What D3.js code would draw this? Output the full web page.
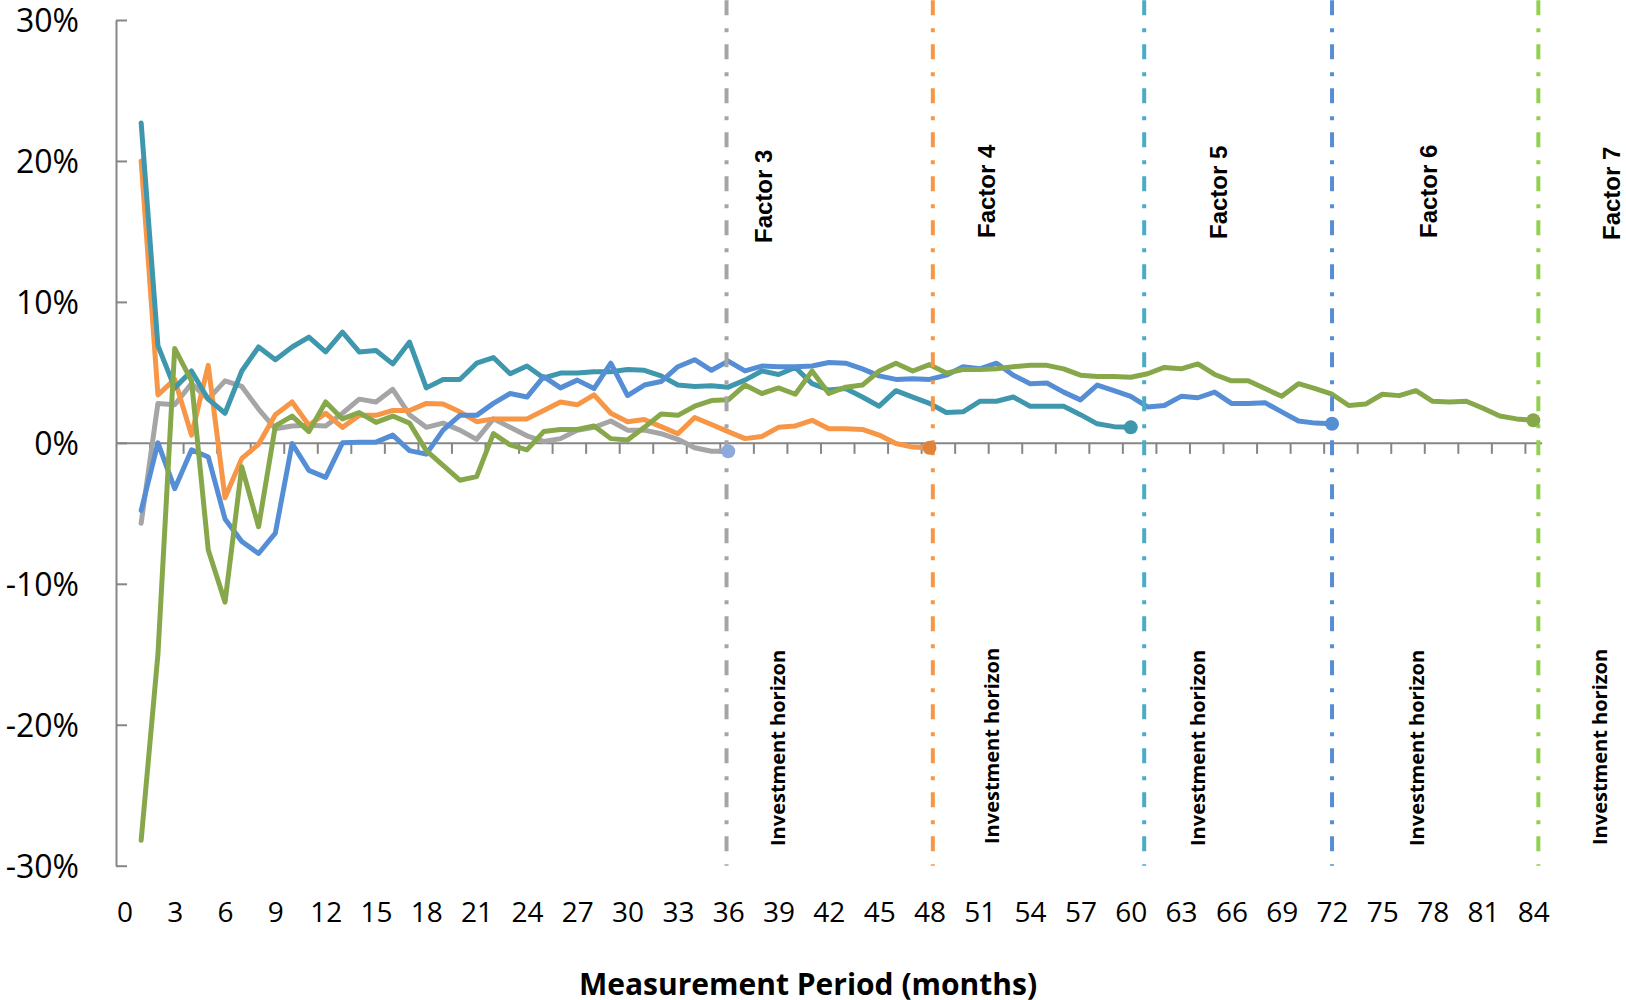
<!DOCTYPE html>
<html>
<head>
<meta charset="utf-8">
<script src="https://cdn.jsdelivr.net/npm/d3@7"></script>
<style>
  html, body { margin: 0; padding: 0; background: #ffffff; }
  svg { display: block; }
</style>
</head>
<body>
<svg id="chart" width="1626" height="1000"></svg>
<script>
// ---- Data -------------------------------------------------------------
// Category axis: months 0..84, labelled every third month
const monthCategories = d3.range(0, 85);
const xTickLabels = d3.range(0, 85, 3);
const yTickValues = [-0.3, -0.2, -0.1, 0, 0.1, 0.2, 0.3];

const factorNames = ["Factor 3", "Factor 4", "Factor 5", "Factor 6", "Factor 7"];
const horizonMonths = [36, 48, 60, 72, 84];
// where each "investment horizon" reference line sits on the month axis
const horizonLineAt = [35.9, 48.2, 60.8, 72.0, 84.3];
const horizonLabel = "Investment horizon";
const xAxisTitle = "Measurement Period (months)";

// Running excess return (%) by measurement month, starting at month 1
const factor3 = [-5.7, 2.8, 2.7, 4.2, 3.1, 4.4, 4.0, 2.4, 1.0, 1.2, 1.25, 1.2, 2.1, 3.1, 2.9, 3.8, 2.0, 1.1,
  1.4, 0.9, 0.25, 1.7, 1.1, 0.5, 0.1, 0.3, 0.9, 1.1, 1.55, 0.9, 0.9, 0.65, 0.25, -0.35, -0.6, -0.6];

const factor4 = [20.0, 3.4, 4.5, 0.55, 5.5, -3.9, -1.1, -0.1, 2.0, 2.9, 1.25, 2.1, 1.1, 1.95, 1.95, 2.3, 2.3, 2.8,
  2.75, 2.2, 1.5, 1.7, 1.7, 1.7, 2.3, 2.9, 2.7, 3.4, 2.1, 1.5, 1.65, 1.15, 0.65, 1.8, 1.3, 0.8,
  0.3, 0.45, 1.1, 1.2, 1.6, 1.0, 1.0, 0.95, 0.55, -0.05, -0.3, -0.35];

const factor5 = [22.7, 6.9, 3.9, 5.1, 3.1, 2.1, 5.1, 6.8, 5.9, 6.8, 7.5, 6.45, 7.85, 6.45, 6.55, 5.6, 7.15, 3.9,
  4.5, 4.5, 5.65, 6.05, 4.9, 5.45, 4.6, 4.95, 4.95, 5.05, 5.05, 5.2, 5.15, 4.75, 4.1, 4.0, 4.05, 3.95,
  4.45, 5.1, 4.85, 5.35, 4.2, 3.75, 3.85, 3.25, 2.6, 3.7, 3.25, 2.8, 2.15, 2.2, 2.95, 2.95, 3.25, 2.6,
  2.6, 2.6, 2.0, 1.35, 1.15, 1.1];

const factor6 = [-4.8, 0.0, -3.25, -0.5, -1.0, -5.4, -7.0, -7.85, -6.4, -0.05, -1.95, -2.45, 0.0, 0.05, 0.05, 0.55, -0.55, -0.8,
  0.9, 1.95, 1.95, 2.8, 3.5, 3.25, 4.7, 3.9, 4.45, 3.85, 5.65, 3.35, 4.1, 4.35, 5.4, 5.9, 5.15, 5.8,
  5.1, 5.45, 5.4, 5.4, 5.45, 5.7, 5.65, 5.25, 4.75, 4.5, 4.55, 4.5, 4.8, 5.4, 5.25, 5.65, 4.8, 4.2,
  4.25, 3.6, 3.05, 4.1, 3.7, 3.3, 2.55, 2.65, 3.3, 3.2, 3.6, 2.8, 2.8, 2.85, 2.2, 1.55, 1.4, 1.35];

const factor7 = [-28.2, -15.0, 6.7, 4.4, -7.6, -11.3, -1.7, -5.95, 1.2, 1.9, 0.8, 2.9, 1.7, 2.15, 1.45, 1.9, 1.4, -0.55,
  -1.6, -2.65, -2.4, 0.65, -0.15, -0.5, 0.8, 0.95, 0.95, 1.2, 0.3, 0.2, 1.1, 2.05, 1.95, 2.6, 3.0, 3.05,
  4.1, 3.5, 3.9, 3.45, 5.1, 3.5, 3.95, 4.1, 5.1, 5.65, 5.1, 5.55, 4.95, 5.2, 5.2, 5.25, 5.4, 5.5,
  5.5, 5.25, 4.8, 4.7, 4.7, 4.65, 4.9, 5.35, 5.25, 5.6, 4.85, 4.4, 4.4, 3.85, 3.3, 4.2, 3.85, 3.45,
  2.65, 2.75, 3.45, 3.35, 3.7, 2.95, 2.9, 2.95, 2.45, 1.9, 1.7, 1.6];

const seriesValues = [factor3, factor4, factor5, factor6, factor7];

// ---- Styling ----------------------------------------------------------
const lineColors   = ["#A5A5A5", "#F79646", "#3F97AE", "#558ED5", "#87A84A"];
const markerColors = ["#8EA9DB", "#E0823A", "#3F97AE", "#558ED5", "#87A84A"];
const guideColors  = ["#A5A5A5", "#F79646", "#4BACC6", "#558ED5", "#92D050"];
const axisColor = "#868686";

// label placement (centre x, start y) in page pixels
const factorLabelPos  = [[763, 243], [986, 238], [1218, 239], [1428, 238], [1611, 240]];
const horizonLabelPos = [[777, 846], [991, 844], [1197, 846], [1416, 846], [1599, 845]];

// ---- Scales -----------------------------------------------------------
const svg = d3.select("#chart");
const x = d3.scaleLinear().domain([-0.5, monthCategories.length - 0.5]).range([116, 1541.7]);
const y = d3.scaleLinear().domain([-0.3, 0.3]).range([865.7, 20]);

svg.append("rect").attr("width", 1626).attr("height", 1000).attr("fill", "#ffffff");

// ---- Axes -------------------------------------------------------------
const pct = d => Math.round(d * 100) + "%";

svg.append("g")
  .attr("transform", "translate(116,0)")
  .call(d3.axisLeft(y).tickValues(yTickValues).tickFormat(pct)
    .tickSizeInner(-11).tickSizeOuter(0).tickPadding(37))
  .call(g => {
    g.select(".domain").attr("stroke", axisColor).attr("stroke-width", 2);
    g.selectAll(".tick line").attr("stroke", axisColor).attr("stroke-width", 2);
    g.selectAll(".tick text").attr("font-family", "'Open Sans', sans-serif")
      .attr("font-size", 32).attr("dy", "0.36em").attr("fill", "#000");
  });

// horizontal axis line at 0% with tick marks between every second category
const boundaryTicks = d3.range(1.5, monthCategories.length - 1, 2);
svg.append("g")
  .attr("transform", `translate(0,${y(0)})`)
  .call(d3.axisBottom(x).tickValues(boundaryTicks).tickFormat("")
    .tickSizeInner(11).tickSizeOuter(0))
  .call(g => {
    g.select(".domain").attr("stroke", axisColor).attr("stroke-width", 2);
    g.selectAll(".tick line").attr("stroke", axisColor).attr("stroke-width", 2);
  });

// month labels sit below the plot area
svg.append("g")
  .attr("transform", `translate(0,${y(-0.3)})`)
  .call(d3.axisBottom(x).tickValues(xTickLabels).tickFormat(d => d)
    .tickSize(0).tickPadding(36))
  .call(g => {
    g.select(".domain").remove();
    g.selectAll(".tick text").attr("font-family", "'Open Sans', sans-serif")
      .attr("font-size", 28).attr("fill", "#000");
  });

svg.append("text")
  .attr("x", 808).attr("y", 995)
  .attr("text-anchor", "middle")
  .attr("font-family", "'Open Sans', sans-serif")
  .attr("font-weight", 700)
  .attr("font-size", 30)
  .attr("fill", "#000")
  .text(xAxisTitle);

// ---- Series lines -----------------------------------------------------
const line = d3.line().x(d => x(d.m)).y(d => y(d.v / 100));

seriesValues.forEach((vals, i) => {
  const pts = vals.map((v, k) => ({ m: k + 1, v }));
  svg.append("path")
    .datum(pts)
    .attr("d", line)
    .attr("fill", "none")
    .attr("stroke", lineColors[i])
    .attr("stroke-width", 5)
    .attr("stroke-linejoin", "round")
    .attr("stroke-linecap", "round");
});

// ---- Investment horizon guides ----------------------------------------
horizonLineAt.forEach((m, i) => {
  svg.append("line")
    .attr("x1", x(m)).attr("x2", x(m))
    .attr("y1", y(0.314)).attr("y2", y(-0.3))
    .attr("stroke", guideColors[i])
    .attr("stroke-width", 4)
    .attr("stroke-dasharray", "15 13 4 12");
});

// end-of-horizon markers
seriesValues.forEach((vals, i) => {
  svg.append("circle")
    .attr("cx", x(horizonMonths[i]))
    .attr("cy", y(vals[vals.length - 1] / 100))
    .attr("r", 7)
    .attr("fill", markerColors[i]);
});

// ---- Labels -----------------------------------------------------------
factorNames.forEach((name, i) => {
  const [cx, sy] = factorLabelPos[i];
  svg.append("text")
    .attr("transform", `translate(${cx + 8.6},${sy}) rotate(-90)`)
    .attr("font-family", "'Liberation Sans', Arial, sans-serif")
    .attr("font-weight", 700)
    .attr("font-size", 24)
    .attr("fill", "#000")
    .text(name);
});

horizonLabelPos.forEach(([cx, sy]) => {
  svg.append("text")
    .attr("transform", `translate(${cx + 8},${sy}) rotate(-90)`)
    .attr("font-family", "'Open Sans', sans-serif")
    .attr("font-weight", 700)
    .attr("font-size", 20)
    .attr("fill", "#000")
    .text(horizonLabel);
});
</script>
</body>
</html>
